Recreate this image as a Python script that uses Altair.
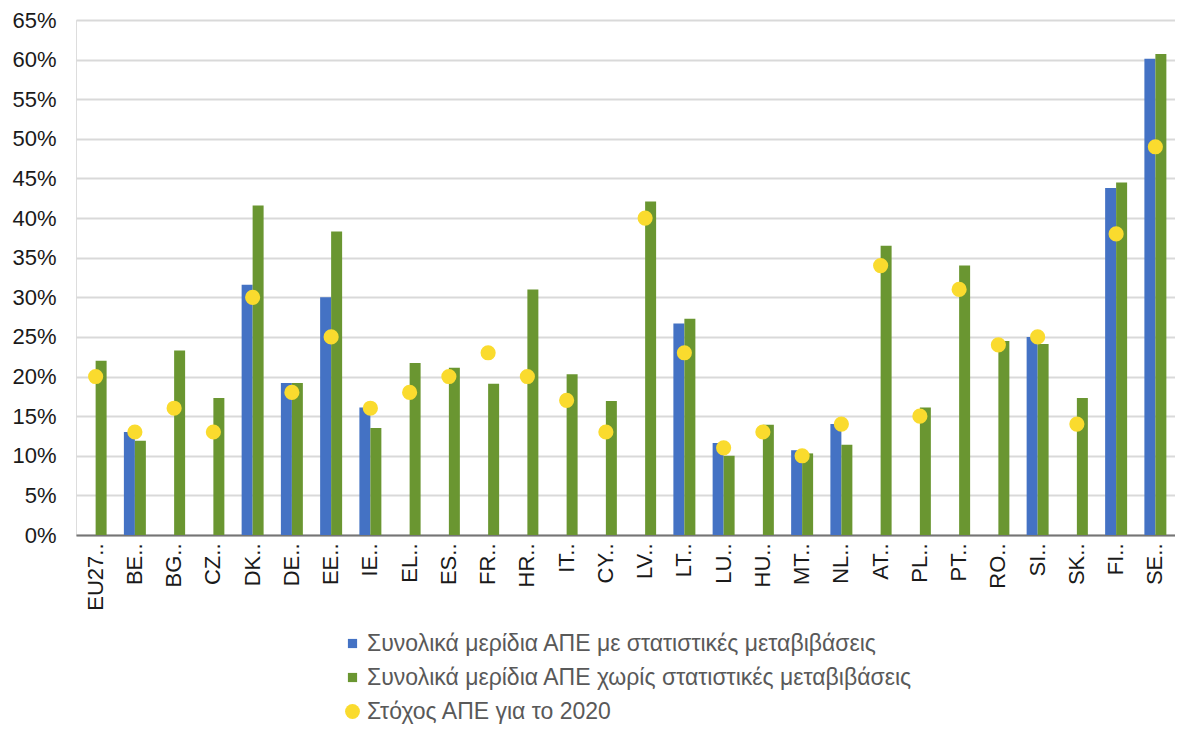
import altair as alt
import pandas as pd

countries = ["EU27..", "BE..", "BG..", "CZ..", "DK..", "DE..", "EE..", "IE..", "EL..", "ES..",
             "FR..", "HR..", "IT..", "CY..", "LV..", "LT..", "LU..", "HU..", "MT..", "NL..",
             "AT..", "PL..", "PT..", "RO..", "SI..", "SK..", "FI..", "SE.."]

with_transfers = [None, 13.0, None, None, 31.6, 19.2, 30.0, 16.1, None, None,
                  None, None, None, None, None, 26.7, 11.6, None, 10.7, 14.0,
                  None, None, None, None, 25.0, None, 43.8, 60.1]

without_transfers = [22.0, 11.9, 23.3, 17.3, 41.6, 19.2, 38.3, 13.5, 21.7, 21.1,
                     19.1, 31.0, 20.3, 16.9, 42.1, 27.3, 10.0, 13.9, 10.3, 11.4,
                     36.5, 16.1, 34.0, 24.5, 24.1, 17.3, 44.5, 60.7]

target_2020 = [20, 13, 16, 13, 30, 18, 25, 16, 18, 20,
               23, 20, 17, 13, 40, 23, 11, 13, 10, 14,
               34, 15, 31, 24, 25, 14, 38, 49]

series_names = [
    "Συνολικά μερίδια ΑΠΕ με στατιστικές μεταβιβάσεις",
    "Συνολικά μερίδια ΑΠΕ χωρίς στατιστικές μεταβιβάσεις",
    "Στόχος ΑΠΕ για το 2020",
]
colors = ["#4472C4", "#6A9631", "#FADB2E"]
y_ticks = list(range(0, 70, 5))

bars_rows = []
for i, c in enumerate(countries):
    bars_rows.append({"country": c, "series": series_names[0], "value": with_transfers[i]})
    bars_rows.append({"country": c, "series": series_names[1], "value": without_transfers[i]})
bars_df = pd.DataFrame(bars_rows)
dots_df = pd.DataFrame({"country": countries, "series": series_names[2], "value": target_2020})

sq = "M-0.62,-0.62H0.62V0.62H-0.62Z"

color_scale = alt.Scale(domain=series_names, range=colors)
shape_scale = alt.Scale(domain=series_names, range=[sq, sq, "circle"])

legend = alt.Legend(
    title=None, orient="none", legendX=265, legendY=612, direction="vertical",
    labelFontSize=23, labelColor="#595959", labelFont="Liberation Sans",
    symbolSize=220, rowPadding=10, symbolStrokeWidth=0, labelOffset=3,
    labelLimit=900, symbolOpacity=1,
)

x_enc = alt.X("country:N", sort=countries, title=None,
              scale=alt.Scale(paddingInner=0.44, paddingOuter=0.22),
              axis=alt.Axis(labelAngle=-90, labelAlign="right", labelBaseline="middle",
                            labelFontSize=22, labelColor="#1a1a1a", labelFont="Liberation Sans",
                            labelPadding=8, ticks=False, domainColor="#757575",
                            domainWidth=2, grid=False, labelLimit=200))
y_enc = alt.Y("value:Q", title=None,
              scale=alt.Scale(domain=[0, 65], nice=False, zero=True),
              axis=alt.Axis(values=y_ticks, labelExpr="datum.value + '%'",
                            labelFontSize=22, labelColor="#1a1a1a", labelFont="Liberation Sans",
                            labelPadding=20, ticks=False, domain=False, labelOverlap=False,
                            gridColor="#d9d9d9", gridWidth=2))

bars = alt.Chart(bars_df).mark_bar(opacity=1).encode(
    x=x_enc,
    xOffset=alt.XOffset("series:N", sort=series_names[:2], scale=alt.Scale(paddingInner=0, paddingOuter=0)),
    y=y_enc,
    color=alt.Color("series:N", scale=color_scale, legend=legend),
)

dots = alt.Chart(dots_df).mark_point(filled=True, opacity=1, size=230, strokeWidth=0).encode(
    x=x_enc,
    y=y_enc,
    color=alt.Color("series:N", scale=color_scale, legend=legend),
    shape=alt.Shape("series:N", scale=shape_scale, legend=legend),
)

chart = alt.layer(bars, dots).properties(
    width=1099, height=515,
    autosize=alt.AutoSizeParams(type="none"),
    padding={"left": 68, "top": 12, "right": 0, "bottom": 194},
).configure_view(stroke=None).configure(font="Liberation Sans")

chart.save("out.html", embed_options={"renderer": "svg", "actions": False})
